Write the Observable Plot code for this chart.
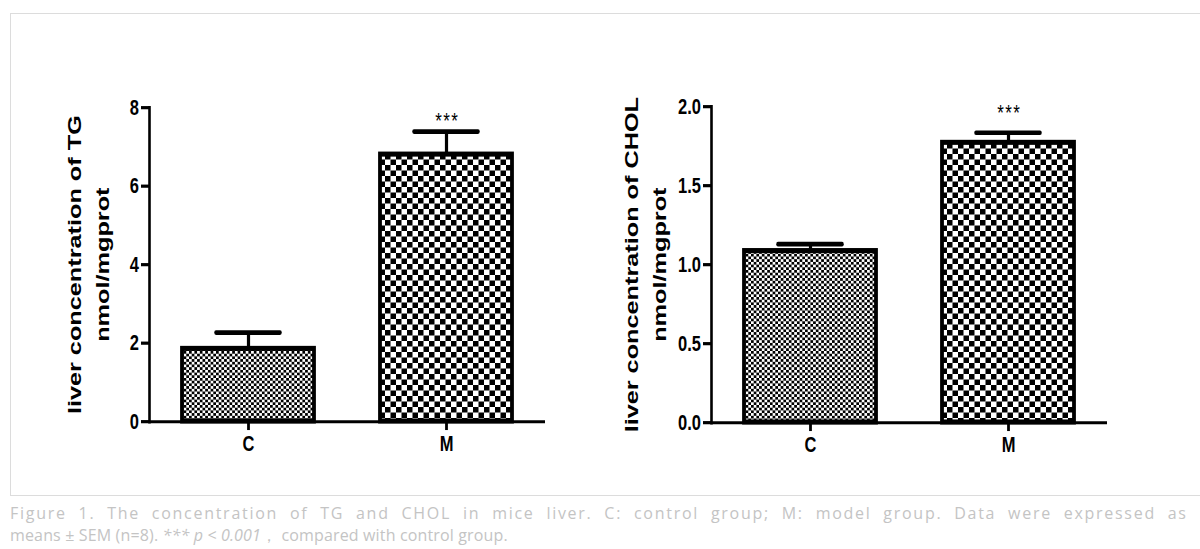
<!DOCTYPE html>
<html><head><meta charset="utf-8">
<script src="https://cdn.jsdelivr.net/npm/d3@7"></script>
<script src="https://cdn.jsdelivr.net/npm/@observablehq/plot@0.6"></script>
<style>
html,body{margin:0;padding:0;background:#fff;}
#page{position:relative;width:1200px;height:549px;overflow:hidden;background:#fff;}
#box{position:absolute;left:10px;top:13px;width:1200px;height:481px;border-top:1.5px solid #dcdcdc;border-left:1.5px solid #dcdcdc;border-bottom:1.5px solid #dcdcdc;}
.panel{position:absolute;top:0;transform-origin:0 0;}
#caption{position:absolute;left:10px;top:502px;width:1176px;font-family:'Open Sans',sans-serif;font-size:16px;line-height:22px;color:#c4c4c4;}
#l1{white-space:nowrap;}
#l2{letter-spacing:0.15px;}
</style></head>
<body>
<div id="page">
  <div id="box"></div>
  <div id="p1" class="panel" style="left:0px"></div>
  <div id="p2" class="panel" style="left:562px"></div>
  <div id="caption">
    <div id="l1"><span id="l1s">Figure 1. The concentration of TG and CHOL in mice liver. C: control group; M: model group. Data were expressed as</span></div>
    <div id="l2">means ± SEM (n=8). <i>*** p &lt; 0.001</i>，&nbsp;compared with control group.</div>
  </div>
</div>
<script>
// ---- data ----
const groups = ["C", "M"];
const tgMean = [1.85, 6.80];
const tgSem = [0.42, 0.59];
const cholMean = [1.085, 1.77];
const cholSem = [0.045, 0.065];
const tgTicks = [0, 2, 4, 6, 8];
const cholTicks = [0, 0.5, 1.0, 1.5, 2.0];
const sigLabels = ["", "***"];
const tgLabel = "liver concentration of TG\nnmol/mgprot";
const cholLabel = "liver concentration of CHOL\nnmol/mgprot";

const S = 1.33; // vertical stretch of the original figure

function addPatterns(svg, key) {
  const defs = d3.select(svg).insert("defs", ":first-child");
  const specs = [["C", 2.7], ["M", 5.5]];
  for (const [g, a] of specs) {
    const b = a / S;
    const p = defs.append("pattern").attr("id", `pat-${key}-${g}`)
      .attr("patternUnits", "userSpaceOnUse").attr("width", 2 * a).attr("height", 2 * b);
    p.append("rect").attr("width", 2 * a).attr("height", 2 * b).attr("fill", "#fff");
    p.append("rect").attr("width", a).attr("height", b).attr("fill", "#000");
    p.append("rect").attr("x", a).attr("y", b).attr("width", a).attr("height", b).attr("fill", "#000");
  }
}

function panel({key, means, sems, ticks, fmt, label, yTop, yBottom, sigDy, labelDx}) {
  const data = groups.map((g, i) => ({group: g, value: means[i], upper: means[i] + sems[i], sig: sigLabels[i]}));
  const H = 346;
  const plot = Plot.plot({
    width: 600, height: H,
    marginLeft: 149, marginRight: 55,
    marginTop: yTop / S, marginBottom: H - yBottom / S,
    style: {fontFamily: "'Liberation Sans', Arial, sans-serif", overflow: "visible", background: "transparent"},
    x: {domain: groups, paddingInner: 1 / 3, paddingOuter: 1 / 6, axis: null, label: null},
    y: {domain: [ticks[0], ticks[ticks.length - 1]], axis: null, label: null},
    color: {type: "identity"},
    marks: [
      Plot.ruleX(data, {x: "group", y1: "value", y2: "upper", stroke: "#000", strokeWidth: 3.2}),
      Plot.tickY(data, {x: "group", y: "upper", stroke: "#000", strokeWidth: 3.5, strokeLinecap: "round", insetLeft: 34, insetRight: 34}),
      Plot.barY(data, {x: "group", y: "value", fill: d => `url(#pat-${key}-${d.group})`, stroke: "#000", strokeWidth: 3.8}),
      Plot.ruleY([ticks[0]], {stroke: "#000", strokeWidth: 2.3}),
      Plot.frame({anchor: "left", stroke: "#000", strokeWidth: 2.6}),
      Plot.axisY({ticks, tickFormat: fmt, tickSize: 8, tickPadding: 2.5, strokeWidth: 2.4, fontSize: 16.5, fontWeight: "bold", label: null}),
      Plot.axisX({tickSize: 6.8, tickPadding: 3.5, strokeWidth: 2.8, fontSize: 16.5, fontWeight: "bold", label: null}),
      Plot.text(data.filter(d => d.sig), {x: "group", y: "upper", text: d => d.sig.split("").join("\u200A"), dy: sigDy, fontSize: 17, fill: "#000"}),
      Plot.text([label], {frameAnchor: "left", textAnchor: "middle", lineAnchor: "middle", rotate: -90, dx: labelDx, text: d => d, fontSize: 19, fontWeight: "bold", lineHeight: 28 / 19, fill: "#000"})
    ]
  });
  addPatterns(plot, key);
  plot.style.transform = `scaleY(${S})`;
  plot.style.transformOrigin = "0 0";
  plot.style.display = "block";
  return plot;
}

document.getElementById("p1").appendChild(panel({
  key: "tg", means: tgMean, sems: tgSem, ticks: tgTicks, fmt: d3.format("d"),
  label: tgLabel, yTop: 107, yBottom: 421, sigDy: -8.4, labelDx: -63
}));
document.getElementById("p2").appendChild(panel({
  key: "chol", means: cholMean, sems: cholSem, ticks: cholTicks, fmt: d3.format(".1f"),
  label: cholLabel, yTop: 106, yBottom: 422, sigDy: -15.2, labelDx: -68
}));

// spread caption line 1 across the full width (measured unjustified first)
const s1 = document.getElementById("l1s");
const txt = s1.textContent;
const w = s1.getBoundingClientRect().width;
const spaces = (txt.match(/ /g) || []).length;
const ws = 6; // extra word spacing
const ls = Math.max(0, (1176 - w - spaces * ws) / (txt.length - 1));
s1.style.letterSpacing = ls + "px";
s1.style.wordSpacing = ws + "px";
</script>
</body></html>
